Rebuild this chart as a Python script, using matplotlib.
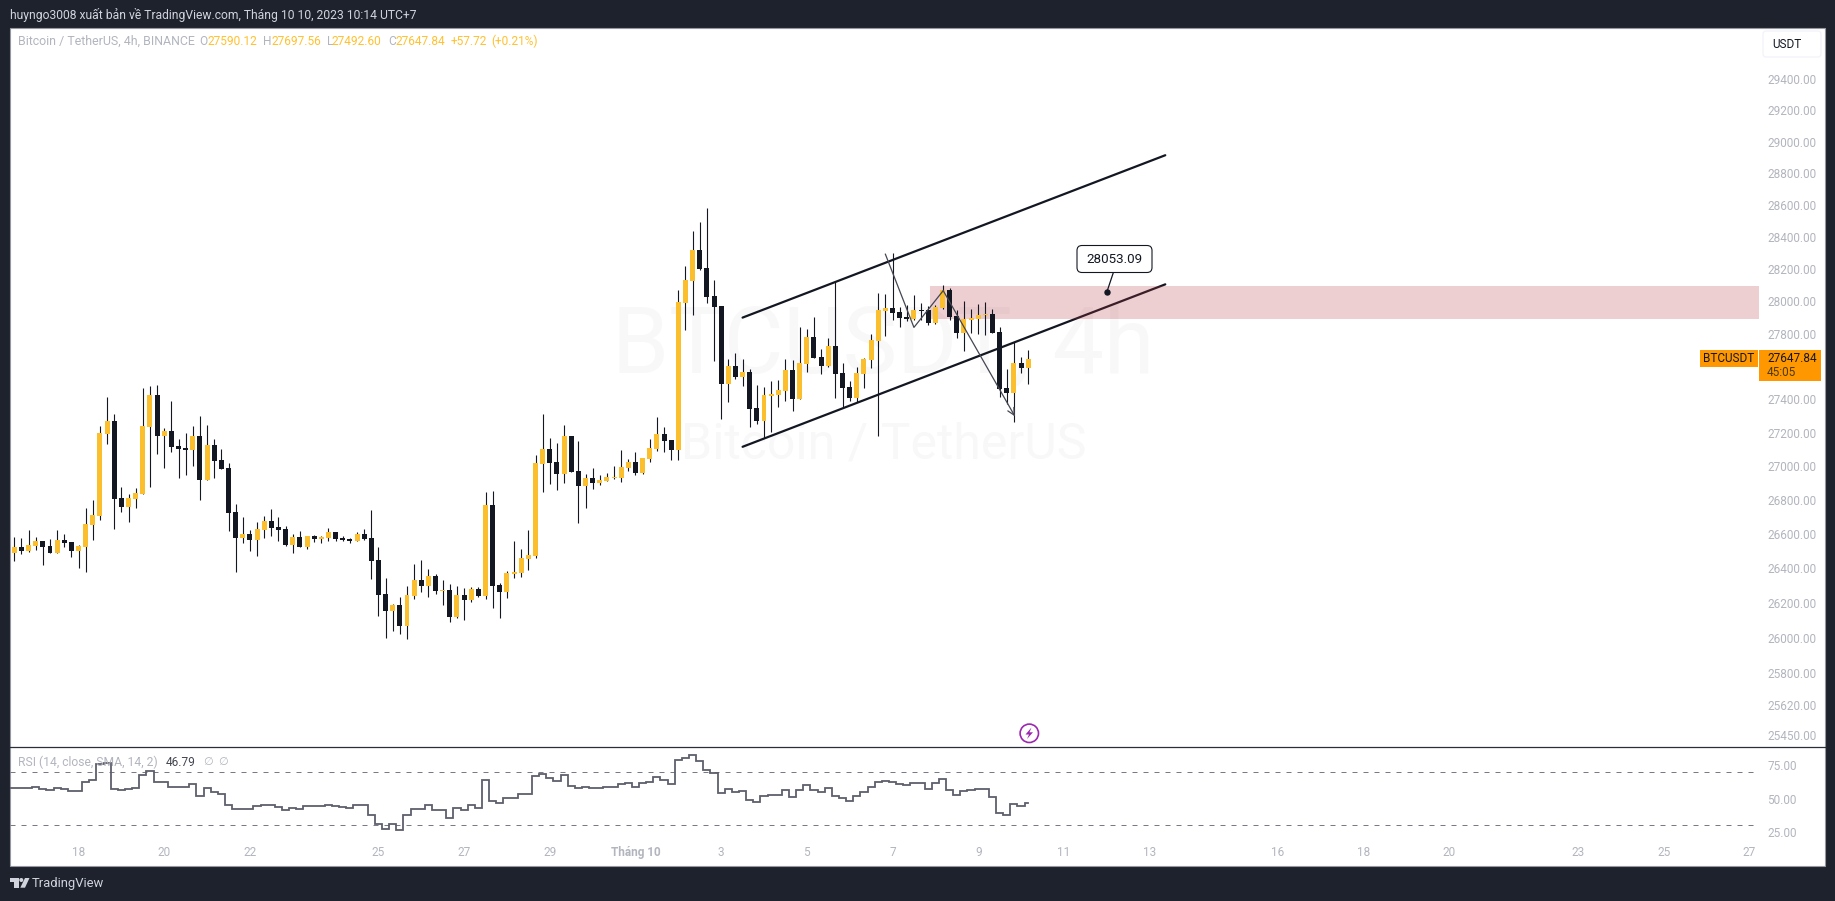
import numpy as np
import matplotlib
matplotlib.use("Agg")
import matplotlib.pyplot as plt
from matplotlib.patches import Rectangle, FancyBboxPatch, Polygon, Circle
from matplotlib.transforms import Affine2D
from matplotlib.lines import Line2D
from matplotlib.ticker import NullLocator

plt.rcParams['font.family'] = ['Roboto', 'DejaVu Sans']

# ---------- data ----------
opens = [26488,26523,26500,26529,26558,26529,26488,26564,26552,26500,
 26523,26652,26704,27191,27269,26813,26757,26807,26837,27233,
 27425,27179,27209,27119,27107,27095,27179,26921,27125,27035,
 26987,26728,26576,26599,26564,26622,26675,26640,26628,26535,
 26582,26523,26587,26570,26576,26611,26576,26570,26558,26599,
 26576,26447,26251,26153,26188,26067,26240,26332,26297,26355,
 26269,26274,26119,26246,26217,26280,26240,26770,26303,26263,
 26366,26372,26453,26470,27014,27104,27026,26955,27181,26973,
 26884,26931,26902,26913,26931,26931,26991,27026,26961,27044,
 27104,27193,27157,27098,27986,28123,28315,28204,28030,27968,
 27493,27601,27535,27565,27349,27271,27421,27427,27451,27577,
 27403,27613,27781,27655,27601,27727,27559,27475,27409,27553,
 27637,27757,27937,27955,27930,27899,27887,27943,27943,27862,
 27955,28067,27906,27806,27886,27892,27911,27923,27812,27468,
 27438,27619,27590.12]
closes = [26523,26500,26535,26558,26523,26488,26564,26546,26500,26529,
 26658,26710,27197,27269,26807,26757,26813,26843,27239,27425,
 27179,27209,27113,27101,27095,27179,26921,27125,27029,26981,
 26726,26576,26599,26564,26628,26675,26634,26622,26535,26582,
 26523,26587,26570,26582,26611,26570,26564,26558,26599,26570,
 26441,26246,26153,26188,26067,26246,26332,26297,26355,26269,
 26274,26119,26246,26217,26280,26240,26770,26297,26263,26372,
 26378,26459,26476,27020,27104,27020,26955,27181,26967,26884,
 26931,26902,26919,26937,26937,26997,27026,26961,27050,27110,
 27193,27151,27098,27992,28129,28315,28197,28024,27961,27493,
 27601,27535,27565,27343,27271,27427,27433,27457,27577,27403,
 27619,27781,27649,27601,27727,27553,27469,27409,27559,27643,
 27763,27943,27955,27924,27893,27887,27943,27937,27862,27961,
 28067,27899,27806,27892,27898,27917,27923,27806,27462,27438,
 27619,27589,27647.84]
highs = [26584,26576,26622,26582,26558,26570,26622,26599,26552,26535,
 26751,26798,27239,27413,27311,26879,26837,26873,27467,27479,
 27485,27227,27389,27161,27197,27239,27299,27245,27161,27101,
 27017,26775,26699,26622,26669,26704,26745,26699,26646,26599,
 26617,26587,26593,26587,26634,26611,26588,26576,26611,26629,
 26740,26523,26343,26194,26234,26297,26424,26447,26395,26366,
 26332,26309,26297,26286,26292,26292,26846,26852,26315,26384,
 26558,26511,26623,27068,27311,27169,27139,27246,27181,27151,
 26955,26991,26949,26961,27003,27098,27044,27086,27050,27163,
 27294,27234,27157,28067,28216,28433,28489,28582,28129,27968,
 27643,27679,27643,27583,27487,27475,27511,27517,27643,27637,
 27843,27831,27899,27703,27775,28123,27619,27511,27595,27649,
 27798,28048,28042,28297,27961,27974,28036,27986,27968,27974,
 28098,28079,27943,28003,27948,27979,27991,27948,27843,27583,
 27746,27655,27697.56]
lows = [26441,26482,26494,26505,26418,26488,26488,26523,26465,26400,
 26377,26564,26681,27131,26628,26728,26669,26751,26837,26879,
 27071,26987,27083,26933,26951,26999,26798,26921,26933,26981,
 26617,26377,26546,26500,26470,26576,26587,26558,26529,26488,
 26523,26511,26552,26546,26558,26558,26558,26547,26558,26564,
 26338,26125,25998,26038,26021,25992,26222,26263,26234,26251,
 26188,26090,26113,26102,26205,26234,26222,26171,26113,26228,
 26343,26349,26389,26459,26848,26896,26860,26902,26967,26666,
 26753,26866,26890,26913,26925,26908,26973,26949,26955,27026,
 27092,27086,27038,27038,27825,27912,28191,27986,27631,27283,
 27385,27523,27481,27235,27253,27169,27205,27355,27391,27331,
 27403,27565,27649,27553,27595,27409,27349,27391,27385,27469,
 27589,27181,27788,27881,27843,27875,27881,27881,27850,27856,
 27949,27881,27775,27691,27806,27800,27794,27806,27414,27372,
 27263,27559,27492.60]
# first entry belongs to the bar just left of the visible range
rsi = [57.7, 57.7,57.9,58.2,58.7,57.4,56.2,57.9,57.4,55.7,55.9,
 62.2,63.7,76.3,76.8,57.4,56.2,57.4,57.9,67.7,70.5,
 62.2,62.7,58.9,58.7,58.4,60.7,52.1,57.7,54.9,53.4,
 45.3,41.8,42.3,41.8,44.1,45.3,44.8,43.8,41.1,43.1,
 41.8,44.1,44.1,44.1,45.3,44.1,43.8,43.1,45.3,44.8,
 37.8,30.5,27.2,30.5,26.5,37.8,42.3,42.3,44.8,41.1,
 41.1,35.3,42.8,41.3,44.8,43.1,63.9,47.9,46.8,50.1,
 50.1,53.4,53.4,67.2,68.2,65.7,62.9,67.5,59.7,57.7,
 58.4,57.7,57.7,58.4,58.4,60.9,61.7,58.4,61.7,62.4,
 66.0,63.9,60.7,79.3,80.3,82.6,78.0,71.3,69.2,54.4,
 56.9,54.9,55.4,49.1,47.6,51.6,52.4,52.4,56.2,50.9,
 56.2,59.9,56.2,54.6,57.7,52.1,50.1,48.4,52.1,54.6,
 58.4,62.4,62.9,62.2,60.9,59.9,61.4,61.4,57.4,61.4,
 64.5,56.7,52.9,55.4,56.2,56.9,56.9,51.4,38.8,37.5,
 45.6,44.6,46.79]

price_ticks = [29400,29200,29000,28800,28600,28400,28200,28000,27800,27400,
               27200,27000,26800,26600,26400,26200,26000,25800,25620,25450]
price_labels = ["%.2f" % t for t in price_ticks]
rsi_ticks = [75, 50, 25]
rsi_labels = ["75.00", "50.00", "25.00"]
rsi_bands = [70, 30]
day_ticks = [9,21,33,51,63,75,87,99,111,123,135,147,159,177,189,201,219,231,243]
day_labels = ["18","20","22","25","27","29","Tháng 10","3","5","7","9","11","13","16","18","20","23","25","27"]

upper_x, upper_p = [102, 161.2], [27898, 28913]
lower_x, lower_p = [102, 161.2], [27116, 28103]
path_x, path_p = [122, 126, 130.1, 140.15], [28290, 27838, 28064, 27298]
zone_x0, zone_lo, zone_hi = 128.25, 27888, 28091
note_x, note_p, note_text = 153, 28053.09, "28053.09"

BG = '#1E222D'; DARK = '#131722'; UP = '#FBBF2D'; GREY = '#B2B5BE'; ORANGE = '#FF9800'
W, H = 1835, 901

fig = plt.figure(figsize=(W/100, H/100), dpi=100, facecolor=BG)
px = Affine2D().scale(1, -1).translate(0, H)

def T(x, y, s, **kw):
    kw.setdefault('va', 'center'); kw.setdefault('ha', 'left'); kw.setdefault('zorder', 6)
    return fig.text(x, y, s, transform=px, **kw)

def A(artist, z=6):
    artist.set_transform(px); artist.set_zorder(z); fig.add_artist(artist); return artist

A(Rectangle((9.5, 27.5), 1815.5, 838, fc='white', ec='#9598A1', lw=0.8), z=-1)

def axes_px(l, t, r, b):
    return fig.add_axes([l/W, 1-b/H, (r-l)/W, (b-t)/H], facecolor='none')

# bars: pixel x = 14.3 + 7.14 i
def xlim_for(l, r):
    return ((l-14.3)/7.14, (r-14.3)/7.14)

ax = axes_px(10, 28, 1759, 746)
ax.set_yscale('log')
ax.set_xlim(*xlim_for(10, 1759))
ax.set_ylim(25388, 29734)
for s in ax.spines.values():
    s.set_visible(False)
ax.yaxis.tick_right()
ax.yaxis.set_minor_locator(NullLocator())
ax.set_yticks(price_ticks)
ax.set_yticklabels(price_labels)
ax.tick_params(axis='y', length=0, pad=5.8, labelsize=8.5, labelcolor=GREY, which='major')
ax.tick_params(axis='y', which='minor', length=0, labelright=False)
ax.set_xticks([])

# watermark
ax.text(0.499, 0.5195, "BTCUSDT, 4h", transform=ax.transAxes, fontsize=66, color='#F8F8F9',
        ha='center', va='baseline', zorder=0)
ax.text(0.4997, 0.401, "Bitcoin / TetherUS", transform=ax.transAxes, fontsize=36, color='#F8F8F9',
        ha='center', va='baseline', zorder=0)

# channel lines, below the zone
ax.plot(upper_x, upper_p, color=DARK, lw=1.6, zorder=1, solid_capstyle='round')
ax.plot(lower_x, lower_p, color=DARK, lw=1.6, zorder=1, solid_capstyle='round')
ax.add_patch(Rectangle((zone_x0, zone_lo), 400, zone_hi-zone_lo, fc='#B5353F', alpha=0.24, lw=0, zorder=2))

# candles
x = np.arange(len(opens))
o, c, h, l = map(np.array, (opens, closes, highs, lows))
ax.vlines(x, l, h, color=DARK, lw=0.8, zorder=3)
colors = [UP if ci >= oi else DARK for oi, ci in zip(o, c)]
ax.bar(x, np.abs(c-o), bottom=np.minimum(o, c), width=0.7, color=colors, lw=0, zorder=4)

# hand-drawn path and arrow
ax.plot(path_x[:3], path_p[:3], color='#434651', lw=0.9, zorder=5)
ax.annotate('', xy=(path_x[3], path_p[3]), xytext=(path_x[2], path_p[2]), zorder=5,
            arrowprops=dict(arrowstyle='->,head_length=0.5,head_width=0.25', mutation_scale=10,
                            color='#434651', lw=0.9, shrinkA=0, shrinkB=0))

# callout
ax.annotate('', xy=(note_x, note_p), xytext=(1113.3, H-272.7), textcoords='figure pixels', zorder=5,
            arrowprops=dict(arrowstyle='-', color=DARK, lw=0.9, shrinkA=0, shrinkB=0))
ax.plot([note_x], [note_p], 'o', color=DARK, ms=3.6, zorder=5)
A(FancyBboxPatch((1077, 245.5), 75, 27, boxstyle='round,pad=0,rounding_size=5', fc='white', ec=DARK, lw=0.8))
T(1114.5, 259.5, note_text, ha='center', color=DARK, fontsize=9.6, zorder=7)

# RSI pane
rx = axes_px(10, 747, 1759, 840)
rx.set_xlim(*xlim_for(10, 1759))
rx.set_ylim(18.68, 88.87)
for s in rx.spines.values():
    s.set_visible(False)
rx.yaxis.tick_right()
rx.set_yticks(rsi_ticks)
rx.set_yticklabels(rsi_labels)
rx.set_xticks(day_ticks)
rx.set_xticklabels(day_labels)
rx.tick_params(axis='y', length=0, pad=5.8, labelsize=8.5, labelcolor=GREY)
rx.tick_params(axis='x', length=0, pad=4.4, labelsize=8.5, labelcolor=GREY)
for lab, txt in zip(rx.get_xticklabels(), day_labels):
    if not txt.isdigit():
        lab.set_fontweight('bold')
for b in rsi_bands:
    ln = rx.axhline(b, xmax=(1753-10)/(1759-10), color='#787B86', lw=0.72)
    ln.set_dashes((5, 6))
rx.plot(np.arange(-1, len(rsi)-1), rsi, color='#5D606B', lw=1.3, drawstyle='steps-mid', solid_joinstyle='miter')

# separator
A(Line2D([9.5, 1825], [746.7, 746.7], color='#2A2E39', lw=0.9), z=6)

# header, legend
T(9.5, 14.5, "huyngo3008 xuất bản về TradingView.com, Tháng 10 10, 2023 10:14 UTC+7", color='#D1D4DC', fontsize=8.7)
T(18, 41.5, "Bitcoin / TetherUS, 4h, BINANCE", color=GREY, fontsize=8.9)
for xp, s, col in [(199, "O", GREY), (207.5, "27590.12", '#FFC12F'), (263, "H", GREY), (271, "27697.56", '#FFC12F'),
                   (326.5, "L", GREY), (332, "27492.60", '#FFC12F'), (388, "C", GREY), (395.6, "27647.84", '#FFC12F'),
                   (451, "+57.72", '#FFC12F'), (491, "(+0.21%)", '#FFC12F')]:
    T(xp, 41.5, s, color=col, fontsize=8.6)

T(18, 762, "RSI (14, close, SMA, 14, 2)", color=GREY, fontsize=8.75)
T(166, 762, "46.79", color='#434651', fontsize=8.6)
T(203.5, 762, "∅", color=GREY, fontsize=8.0)
T(218, 762, "∅", color=GREY, fontsize=8.0)

# right-hand furniture
A(FancyBboxPatch((1763, 31), 58, 26, boxstyle='round,pad=0,rounding_size=3', fc='white', ec='#F0F3FA', lw=0.9))
T(1772, 44.5, "USDT", color=DARK, fontsize=8.5)
A(Rectangle((1700, 350), 57.7, 17, fc=ORANGE, lw=0))
T(1728.8, 358.7, "BTCUSDT", ha='center', color=DARK, fontsize=8.5)
A(Rectangle((1759, 350), 62, 30.7, fc=ORANGE, lw=0))
T(1767, 358.7, "27647.84", color=DARK, fontsize=8.5)
T(1767, 372.5, "45:05", color='#4A3A10', fontsize=8.5)

# lightning icon
A(Circle((1029.3, 733.3), 9.2, fc='white', ec='#9C27B0', lw=1.2))
A(Polygon([(1031.5, 727.5), (1025.5, 734.5), (1029, 734.5), (1027, 739), (1033, 732.3), (1029.5, 732.3)],
          closed=True, fc='#9C27B0', lw=0))

# TradingView logo
A(Polygon([(10, 878), (18.5, 878), (18.5, 887.7), (14.3, 887.7), (14.3, 882), (10, 882)], closed=True, fc='#D1D4DC', lw=0))
A(Circle((21.3, 880), 2.0, fc='#D1D4DC', lw=0))
A(Polygon([(25, 878), (29.5, 878), (25, 887.7), (20.3, 887.7)], closed=True, fc='#D1D4DC', lw=0))
T(32, 883.7, "TradingView", color='#D1D4DC', fontsize=9.4)

fig.savefig('out.png', dpi=100, facecolor=BG)
